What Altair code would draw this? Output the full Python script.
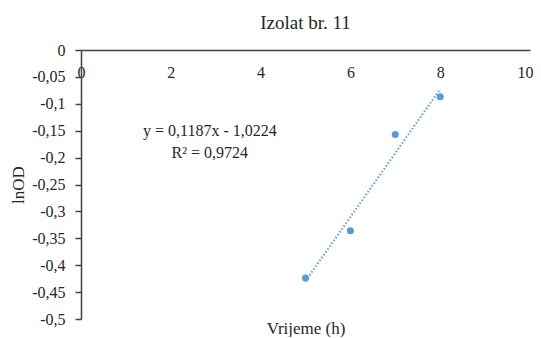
import altair as alt
import pandas as pd

# data
time_h = [5, 6, 7, 8]
ln_od = [-0.424, -0.336, -0.157, -0.087]

x_ticks = [0, 2, 4, 6, 8, 10]
y_ticks = [0, -0.05, -0.1, -0.15, -0.2, -0.25, -0.3, -0.35, -0.4, -0.45, -0.5]

eq_lines = ["y = 0,1187x - 1,0224", "R² = 0,9724"]
eq_x = [2.87, 2.87]
eq_y = [-0.1505, -0.191]

pts = pd.DataFrame({"t": time_h, "y": ln_od})
eq = pd.DataFrame({"t": eq_x, "y": eq_y, "txt": eq_lines})

FONT = "Liberation Serif"
TXT = "#262626"
AX = "#404040"
BLUE = "#5B9BD5"

label_expr = "replace(replace(format(datum.value, '.2~f'), '.', ','), '\u2212', '-')"

x_enc = alt.X(
    "t:Q",
    scale=alt.Scale(domain=[0, 10], nice=False),
    axis=alt.Axis(
        values=x_ticks,
        orient="bottom",
        offset=-269,
        ticks=False,
        grid=False,
        labelFlush=False,
        labelOverlap=False,
        labelPadding=14,
        labelOffset={"condition": {"test": "datum.value == 10", "value": -5}, "value": 0},
        labelFont=FONT,
        labelFontSize=16,
        labelColor=TXT,
        domainColor=AX,
        domainWidth=1.5,
        title="Vrijeme (h)",
        titleFont=FONT,
        titleFontSize=17,
        titleFontWeight="normal",
        titleColor=TXT,
        titleY=278,
        titleBaseline="middle",
    ),
)
y_enc = alt.Y(
    "y:Q",
    scale=alt.Scale(domain=[-0.5, 0], nice=False),
    axis=alt.Axis(
        values=y_ticks,
        labelExpr=label_expr,
        labelOverlap=False,
        labelFlush=False,
        grid=False,
        tickSize=6,
        tickColor=AX,
        tickWidth=1.5,
        labelPadding=10,
        labelFont=FONT,
        labelFontSize=16,
        labelColor=TXT,
        domainColor=AX,
        domainWidth=1.5,
        title="lnOD",
        titleFont=FONT,
        titleFontSize=17,
        titleFontWeight="normal",
        titleColor=TXT,
        titleX=-63,
        titleY=134.5,
        titleBaseline="middle",
    ),
)

points = alt.Chart(pts).mark_circle(size=50, color=BLUE, opacity=1).encode(x=x_enc, y=y_enc)

trend = (
    alt.Chart(pts)
    .transform_regression("t", "y", extent=[5, 8])
    .mark_line(color=BLUE, strokeWidth=2, strokeDash=[1.5, 2])
    .encode(x=x_enc, y=y_enc)
)

eq_text = (
    alt.Chart(eq)
    .mark_text(font=FONT, fontSize=16, color=TXT, align="center", baseline="middle")
    .encode(x=x_enc, y=y_enc, text="txt:N")
)

chart = (
    alt.layer(trend, points, eq_text)
    .properties(
        width=449,
        height=269,
        background="white",
        autosize=alt.AutoSizeParams(type="none"),
        padding={"left": 73, "top": 42, "right": 3, "bottom": 18},
        title=alt.TitleParams(
            "Izolat br. 11",
            font=FONT,
            fontSize=19,
            fontWeight="normal",
            color=TXT,
            frame="group",
            offset=9,
            anchor="middle",
        ),
    )
    .configure_view(stroke="transparent", strokeWidth=0)
)

chart.save("out.html", embed_options={"renderer": "svg", "actions": False})
